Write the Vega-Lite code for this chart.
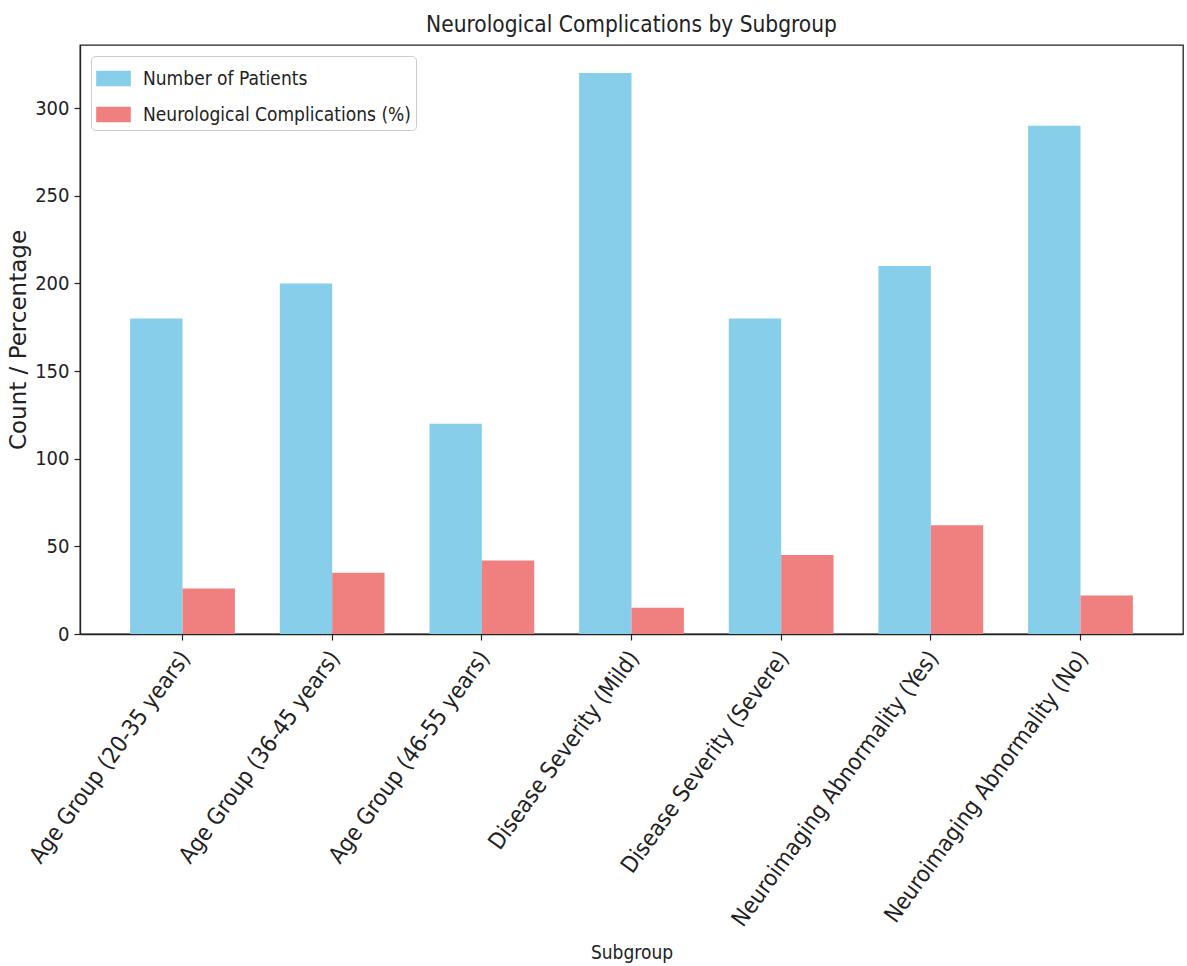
{
  "$schema": "https://vega.github.io/schema/vega-lite/v6.json",
  "width": 1103,
  "height": 589,
  "autosize": {"type": "none"},
  "padding": {"left": 80, "top": 45, "right": 4, "bottom": 332},
  "background": "white",
  "config": {
    "font": "DejaVu Sans Condensed, DejaVu Sans",
    "view": {"stroke": "#222222", "strokeWidth": 1.3},
    "axis": {"domainColor": "#222222", "tickColor": "#222222", "labelColor": "#222222", "titleColor": "#222222", "grid": false, "titleFontWeight": "normal"}
  },
  "title": {"text": "Neurological Complications by Subgroup", "fontSize": 22.5, "fontWeight": "normal", "color": "#222222", "offset": 9, "font": "DejaVu Sans Condensed, DejaVu Sans"},
  "data": {
    "values": [
      {"subgroup": "Age Group (20-35 years)", "measure": "Number of Patients", "value": 180},
      {"subgroup": "Age Group (20-35 years)", "measure": "Neurological Complications (%)", "value": 26},
      {"subgroup": "Age Group (36-45 years)", "measure": "Number of Patients", "value": 200},
      {"subgroup": "Age Group (36-45 years)", "measure": "Neurological Complications (%)", "value": 35},
      {"subgroup": "Age Group (46-55 years)", "measure": "Number of Patients", "value": 120},
      {"subgroup": "Age Group (46-55 years)", "measure": "Neurological Complications (%)", "value": 42},
      {"subgroup": "Disease Severity (Mild)", "measure": "Number of Patients", "value": 320},
      {"subgroup": "Disease Severity (Mild)", "measure": "Neurological Complications (%)", "value": 15},
      {"subgroup": "Disease Severity (Severe)", "measure": "Number of Patients", "value": 180},
      {"subgroup": "Disease Severity (Severe)", "measure": "Neurological Complications (%)", "value": 45},
      {"subgroup": "Neuroimaging Abnormality (Yes)", "measure": "Number of Patients", "value": 210},
      {"subgroup": "Neuroimaging Abnormality (Yes)", "measure": "Neurological Complications (%)", "value": 62},
      {"subgroup": "Neuroimaging Abnormality (No)", "measure": "Number of Patients", "value": 290},
      {"subgroup": "Neuroimaging Abnormality (No)", "measure": "Neurological Complications (%)", "value": 22}
    ]
  },
  "mark": {"type": "bar"},
  "encoding": {
    "x": {
      "field": "subgroup",
      "type": "nominal",
      "sort": null,
      "scale": {"paddingInner": 0.3, "paddingOuter": 0.335},
      "axis": {"title": "Subgroup", "titleFontSize": 19, "titleY": 318, "titleBaseline": "middle", "labelAngle": -54, "labelAlign": "right", "labelBaseline": "top", "labelFontSize": 23, "labelPadding": 7, "labelOffset": -6, "tickSize": 6, "tickWidth": 1.2, "domainWidth": 1.3, "labelLimit": 500}
    },
    "xOffset": {
      "field": "measure",
      "type": "nominal",
      "sort": ["Number of Patients", "Neurological Complications (%)"],
      "scale": {"paddingInner": 0, "paddingOuter": 0}
    },
    "y": {
      "field": "value",
      "type": "quantitative",
      "scale": {"domain": [0, 336], "nice": false},
      "axis": {"title": "Count / Percentage", "titleFontSize": 23, "titlePadding": 4, "values": [0, 50, 100, 150, 200, 250, 300], "labelFontSize": 20, "labelPadding": 5, "tickSize": 6, "tickWidth": 1.2, "domainWidth": 1.3, "titleFont": "DejaVu Sans"}
    },
    "color": {
      "field": "measure",
      "type": "nominal",
      "sort": ["Number of Patients", "Neurological Complications (%)"],
      "scale": {"domain": ["Number of Patients", "Neurological Complications (%)"], "range": ["#87CEEB", "#F08080"]},
      "legend": {
        "title": null,
        "orient": "none",
        "legendX": 11,
        "legendY": 11,
        "symbolType": "M-1,-0.45H1V0.45H-1Z",
        "symbolSize": 1200,
        "symbolStrokeWidth": 0,
        "labelFontSize": 19,
        "labelLimit": 500,
        "labelColor": "#222222",
        "rowPadding": 8,
        "labelOffset": 12,
        "padding": 5,
        "strokeColor": "#cccccc",
        "cornerRadius": 4,
        "fillColor": "white"
      }
    }
  }
}
